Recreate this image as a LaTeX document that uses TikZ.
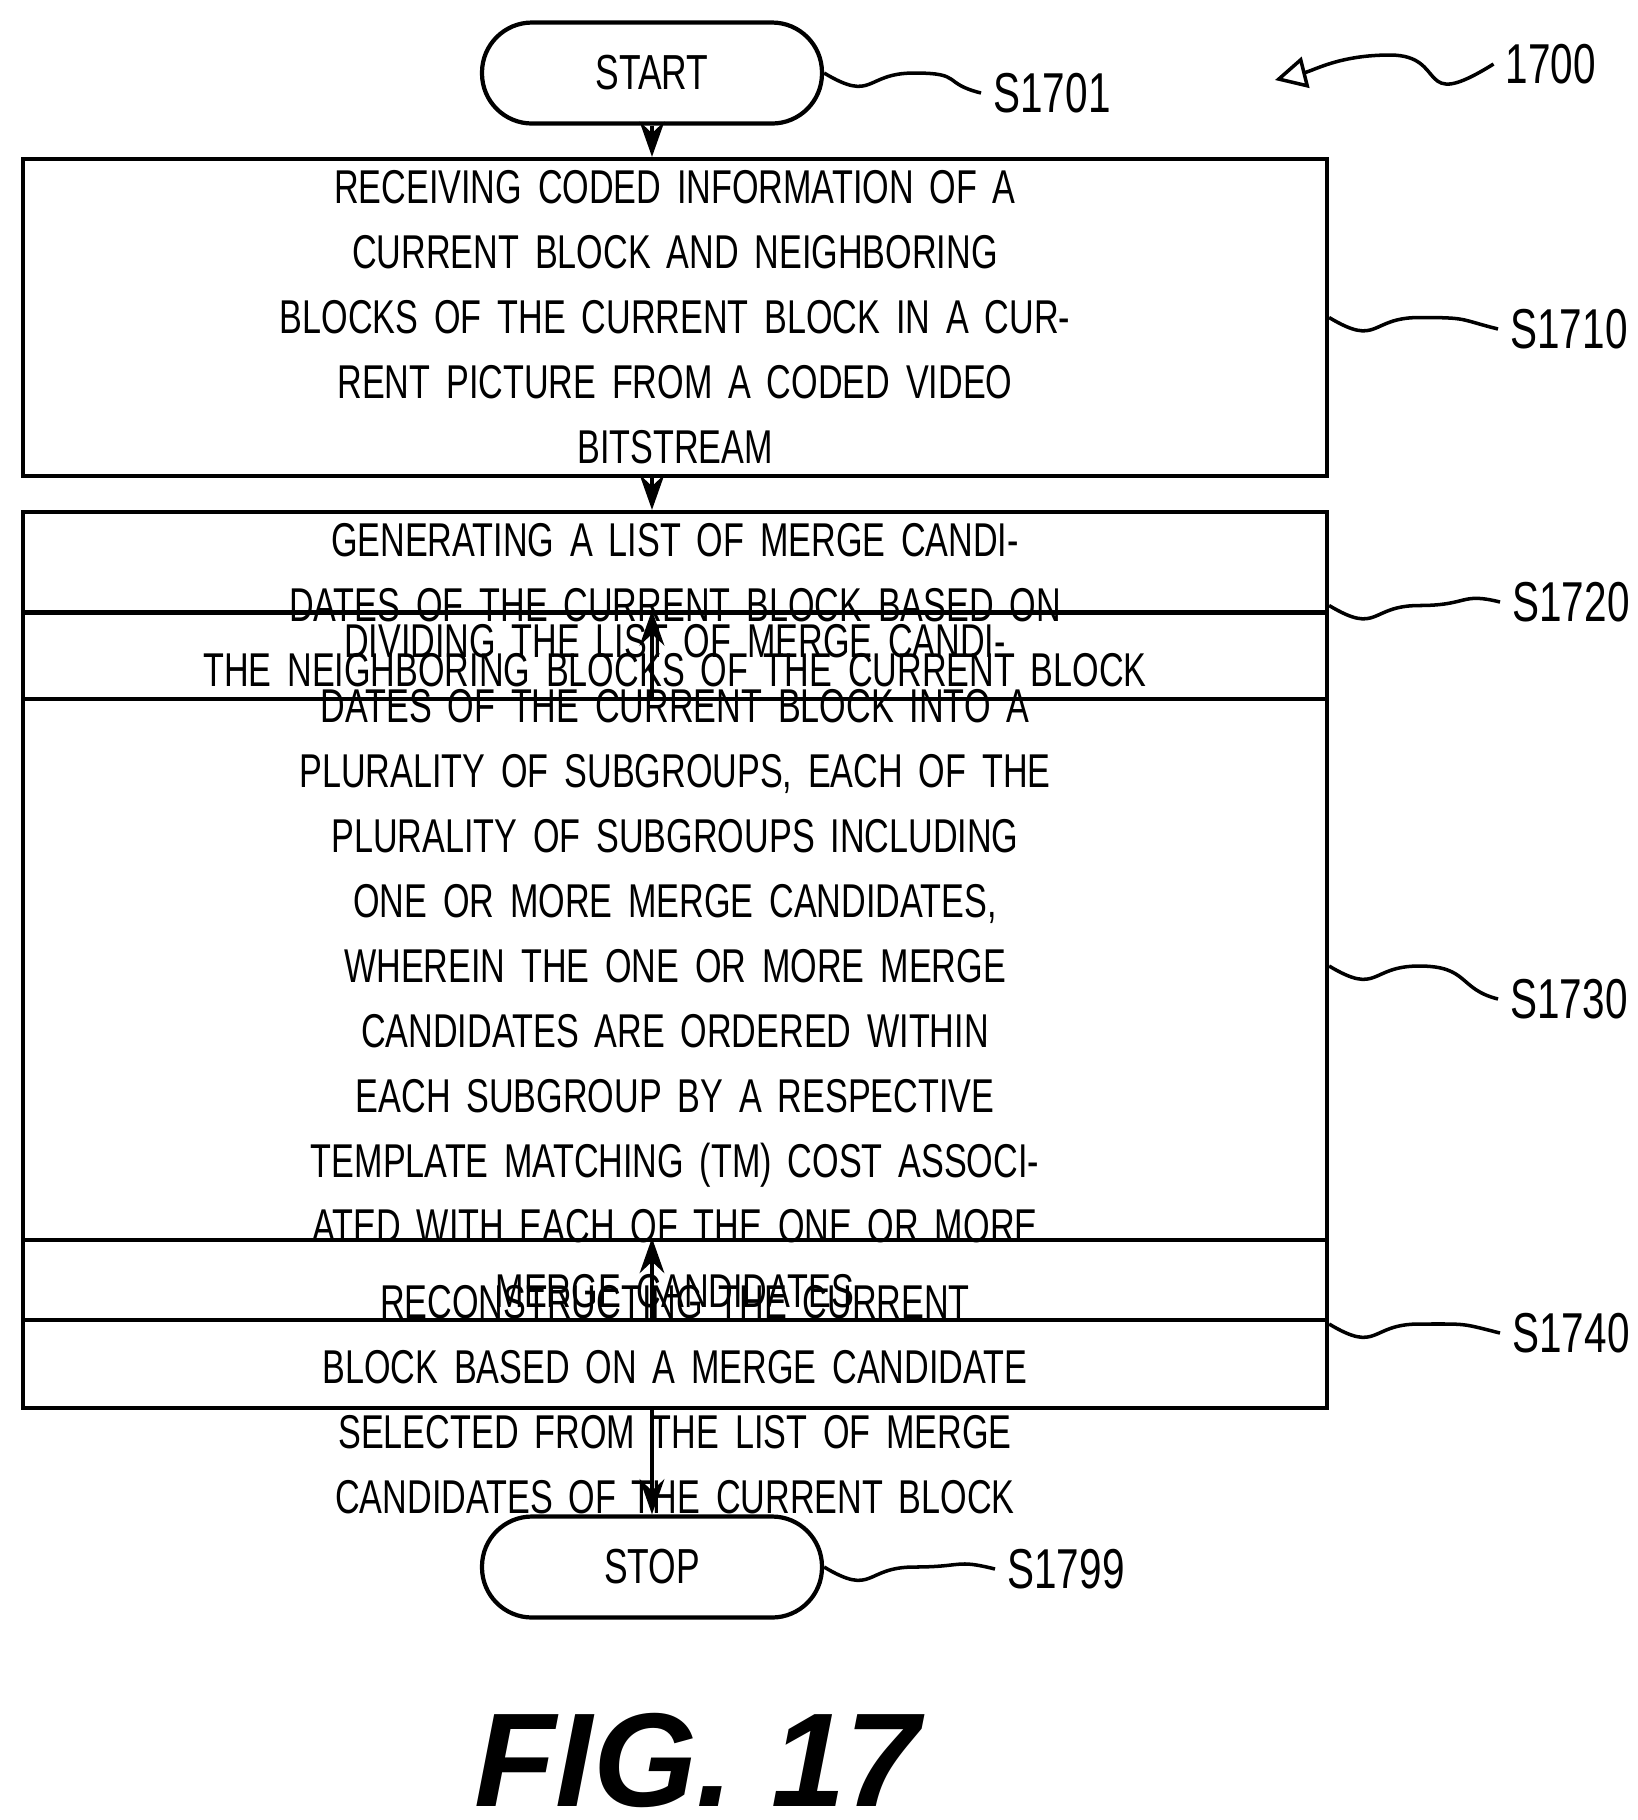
\documentclass[tikz,border=0pt]{standalone}
\usepackage{fontspec}
\setmainfont{Liberation Sans}[FakeStretch=0.72]
\newfontfamily\figfont{Liberation Sans}
\usetikzlibrary{positioning,arrows.meta}
\tikzset{
  procbox/.style={draw, line width=1.2pt, align=center, text width=12.8cm, inner xsep=0.12cm, font=\fontsize{13.5}{18.5}\selectfont},
  term/.style={draw, line width=1.2pt, rounded corners=0.5cm, minimum width=3.4cm, minimum height=1.01cm, font=\fontsize{14}{18}\selectfont},
  flow/.style={-{Stealth[length=10pt,width=7pt]}, line width=1.2pt},
  lbl/.style={font=\fontsize{16}{18}\selectfont},
  lead/.style={line width=1pt}
}
\begin{document}
\begin{tikzpicture}[x=1cm,y=-1cm]
  \useasboundingbox (0,0) rectangle (16.38,18.2);

  % Start / stop
  \node[term] (start) at (6.52,0.73) {START};
  \node[term] (stop) at (6.52,15.67) {STOP};

  % Steps
  \node[procbox, minimum height=1.79cm] (s1710) at (6.75,3.175)
    {RECEIVING CODED INFORMATION OF A CURRENT BLOCK AND NEIGHBORING\\BLOCKS OF THE CURRENT BLOCK IN A CURRENT PICTURE FROM A CODED VIDEO\\BITSTREAM};
  \node[procbox, minimum height=1.67cm] (s1720) at (6.75,6.055)
    {GENERATING A LIST OF MERGE CANDIDATES OF THE CURRENT BLOCK BASED ON\\THE NEIGHBORING BLOCKS OF THE CURRENT BLOCK};
  \node[procbox, minimum height=3.36cm] (s1730) at (6.75,9.66)
    {DIVIDING THE LIST OF MERGE CANDIDATES OF THE CURRENT BLOCK INTO A\\PLURALITY OF SUBGROUPS, EACH OF THE PLURALITY OF SUBGROUPS INCLUDING\\ONE OR MORE MERGE CANDIDATES, WHEREIN THE ONE OR MORE MERGE\\CANDIDATES ARE ORDERED WITHIN EACH SUBGROUP BY A RESPECTIVE\\TEMPLATE MATCHING (TM) COST ASSOCIATED WITH EACH OF THE ONE OR MORE\\MERGE CANDIDATES};
  \node[procbox, minimum height=1.68cm, text depth=0.45cm] (s1740) at (6.75,13.24)
    {RECONSTRUCTING THE CURRENT BLOCK BASED ON A MERGE CANDIDATE\\SELECTED FROM THE LIST OF MERGE CANDIDATES OF THE CURRENT BLOCK};

  % Flow arrows
  \draw[flow] (start.south) -- (start.south |- s1710.north);
  \draw[flow] (s1710.south -| start) -- (s1720.north -| start);
  \draw[flow] (s1720.south -| start) -- (s1730.north -| start);
  \draw[flow] (s1730.south -| start) -- (s1740.north -| start);
  \draw[flow] (s1740.south -| start) -- (stop.north);

  % Reference labels
  \node[lbl] (l1701) at (10.52,0.93) {S1701};
  \node[lbl] (l1710) at (15.69,3.29) {S1710};
  \node[lbl] (l1720) at (15.71,6.02) {S1720};
  \node[lbl] (l1730) at (15.69,9.99) {S1730};
  \node[lbl] (l1740) at (15.71,13.33) {S1740};
  \node[lbl] (l1799) at (10.66,15.69) {S1799};
  \node[lbl] (l1700) at (15.51,0.64) {1700};

  \foreach \a/\b in {start/l1701, s1710/l1710, s1720/l1720, s1730/l1730, s1740/l1740, stop/l1799}
    \draw[lead] (\a.east) .. controls +(0.5,0.3) and +(-0.5,0) .. ++(0.9,0) .. controls +(0.5,0) and +(-0.4,-0.1) .. (\b.west);

  \coordinate (tip) at (12.75,0.8);
  \draw[lead, -{Triangle[open,length=9pt,width=9pt]}] (l1700.west) .. controls +(-0.8,0.5) and +(0.6,0) .. (13.9,0.55) .. controls +(-0.5,0) and +(0.4,-0.1) .. (tip);

  % Figure title
  \node[font=\figfont\fontsize{38}{42}\selectfont\bfseries\itshape] (fig) at (6.97,17.6) {FIG. 17};
\end{tikzpicture}
\end{document}
